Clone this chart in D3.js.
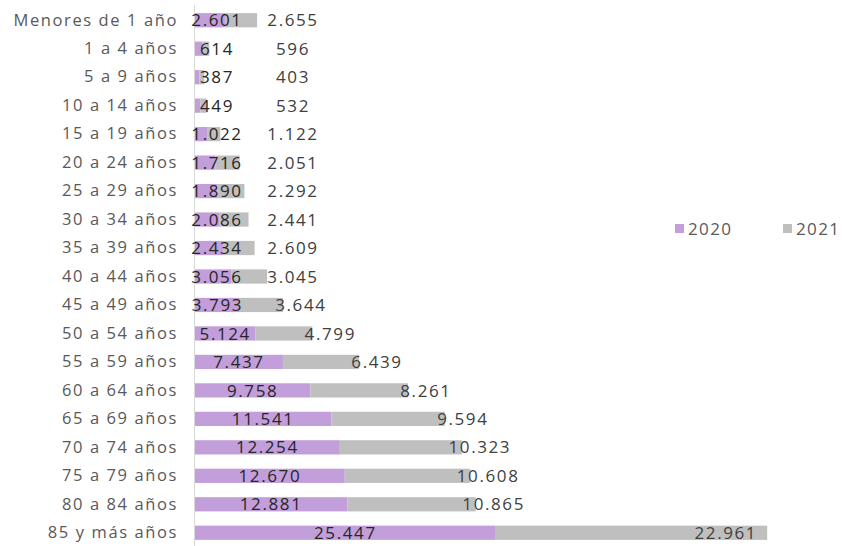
<!DOCTYPE html>
<html><head><meta charset="utf-8">
<script src="https://cdn.jsdelivr.net/npm/d3@7/dist/d3.min.js"></script>
<style>
html,body{margin:0;padding:0;background:#fff;}
svg{display:block;font-family:"Open Sans",sans-serif;}
</style></head>
<body><svg id="chart" width="843" height="546"></svg>
<script>
const categories = ["Menores de 1 año","1 a 4 años","5 a 9 años","10 a 14 años","15 a 19 años","20 a 24 años","25 a 29 años","30 a 34 años","35 a 39 años","40 a 44 años","45 a 49 años","50 a 54 años","55 a 59 años","60 a 64 años","65 a 69 años","70 a 74 años","75 a 79 años","80 a 84 años","85 y más años"];
const values2020 = [2601,614,387,449,1022,1716,1890,2086,2434,3056,3793,5124,7437,9758,11541,12254,12670,12881,25447];
const values2021 = [2655,596,403,532,1122,2051,2292,2441,2609,3045,3644,4799,6439,8261,9594,10323,10608,10865,22961];
const seriesNames = ["2020","2021"];
const colors = ["#c29edb","#bfbfbf"];

const fmt = v => d3.format(",")(v).replace(/,/g,".");

const svg = d3.select("#chart");
const x = d3.scaleLinear().domain([0,50000]).range([195,786]);
const y = d3.scaleBand().domain(categories).range([6,547]).paddingInner(0.5).paddingOuter(0.25);

// axis line
svg.append("line").attr("x1",194.5).attr("x2",194.5).attr("y1",5).attr("y2",546)
  .attr("stroke","#d9d9d9").attr("stroke-width",1);

const rows = categories.map((c,i)=>({c, a:values2020[i], b:values2021[i]}));

// 2020 bars
svg.append("g").selectAll("rect").data(rows).join("rect")
  .attr("x",x(0)).attr("y",d=>y(d.c)).attr("height",y.bandwidth())
  .attr("width",d=>x(d.a)-x(0)).attr("fill",colors[0]);
// 2021 bars
svg.append("g").selectAll("rect").data(rows).join("rect")
  .attr("x",d=>x(d.a)).attr("y",d=>y(d.c)).attr("height",y.bandwidth())
  .attr("width",d=>x(d.a+d.b)-x(d.a)).attr("fill",colors[1]);

// category labels
const yAxis = d3.axisLeft(y).tickSize(0).tickPadding(0);
const ga = svg.append("g").attr("transform","translate(178,0)").call(yAxis);
ga.select(".domain").remove();
ga.selectAll("text").attr("fill","#595959").style("font-size","16.5px")
  .style("font-family","'Open Sans',sans-serif").attr("letter-spacing","1.6px");

// 2020 value labels
svg.append("g").selectAll("text").data(rows).join("text")
  .attr("x",d=>Math.max((x(0)+x(d.a))/2, x(0)+22))
  .attr("y",d=>y(d.c)+y.bandwidth()/2)
  .attr("dy","0.36em").attr("text-anchor","middle")
  .attr("fill","#262626").style("font-size","17px").attr("letter-spacing","1.6px")
  .text(d=>fmt(d.a));

// 2021 value labels
svg.append("g").selectAll("text").data(rows).join("text")
  .each(function(d){
    const end = x(d.a+d.b);
    let cx = Math.max(end+18, 293);
    const t = d3.select(this);
    if (cx + 32 > 786) {
      t.attr("x", end-10).attr("text-anchor","end");
    } else {
      t.attr("x", cx).attr("text-anchor","middle");
    }
  })
  .attr("y",d=>y(d.c)+y.bandwidth()/2)
  .attr("dy","0.36em")
  .attr("fill","#404040").style("font-size","17px").attr("letter-spacing","1.6px")
  .text(d=>fmt(d.b));

// legend
const lg = svg.append("g");
const legendX = [675, 783];
seriesNames.forEach((s,i)=>{
  lg.append("rect").attr("x",legendX[i]).attr("y",224).attr("width",9).attr("height",9).attr("fill",colors[i]);
  lg.append("text").attr("x",legendX[i]+13).attr("y",229).attr("dy","0.36em")
    .attr("fill","#595959").style("font-size","17px").attr("letter-spacing","1.4px").text(s);
});
</script></body></html>
